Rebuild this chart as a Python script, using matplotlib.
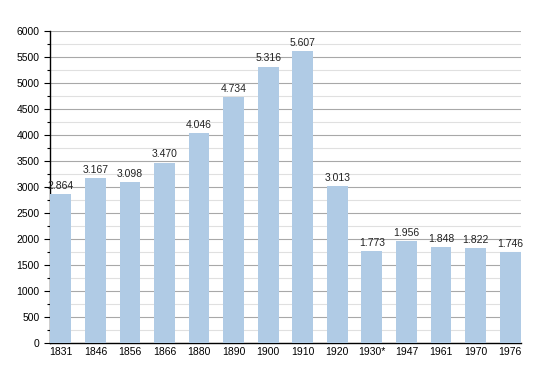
import matplotlib
matplotlib.use("Agg")
import matplotlib.pyplot as plt
from matplotlib.ticker import MultipleLocator

# datos de poblacion
anios = ["1831", "1846", "1856", "1866", "1880", "1890", "1900",
         "1910", "1920", "1930*", "1947", "1961", "1970", "1976"]
poblacion = [2864, 3167, 3098, 3470, 4046, 4734, 5316,
             5607, 3013, 1773, 1956, 1848, 1822, 1746]

plt.rcParams['font.family'] = ['Liberation Sans', 'DejaVu Sans']

fig = plt.figure(figsize=(5.5, 3.73), dpi=100)
ax = fig.add_axes([0.091, 0.080, 0.856, 0.837])

x = range(len(anios))
ax.bar(x, poblacion, width=0.6, color="#b0cbe5", zorder=3)

for i, v in zip(x, poblacion):
    etiqueta = f"{v:,}".replace(",", ".")
    ax.text(i, v + 60, etiqueta, ha="center", va="bottom", fontsize=7.5,
            color="#222222", zorder=4)

ax.set_ylim(0, 6000)
ax.set_xlim(-0.31, len(anios) - 0.69)
ax.yaxis.set_major_locator(MultipleLocator(500))
ax.yaxis.set_minor_locator(MultipleLocator(250))
ax.grid(which="major", axis="y", color="#a8a8a8", linewidth=0.8, zorder=0)
ax.grid(which="minor", axis="y", color="#e0e0e0", linewidth=0.8, zorder=0)

ax.set_xticks(list(x))
ax.set_xticklabels(anios)
ax.tick_params(axis="x", length=0, labelsize=7.5, pad=3)
ax.tick_params(axis="y", which="major", length=4, width=0.8, labelsize=7.5)
ax.tick_params(axis="y", which="minor", length=2, width=0.8)

for lado in ["top", "right"]:
    ax.spines[lado].set_visible(False)
ax.spines["left"].set_linewidth(1)
ax.spines["bottom"].set_linewidth(1)

fig.savefig("out.png", dpi=100)
